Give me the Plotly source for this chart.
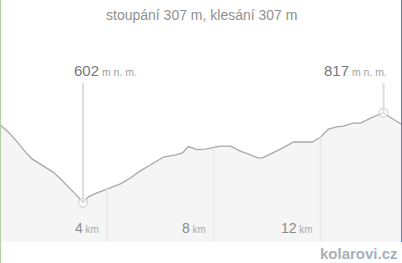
import numpy as np
import plotly.graph_objects as go

# distance along route (km) and elevation (m n. m.)
dist_km = [0.0, 0.31, 0.68, 0.98, 1.21, 1.43, 1.70, 1.99, 2.26, 2.56, 2.86, 3.11,
           3.31, 3.61, 4.02, 4.51, 4.88, 5.25, 5.63, 6.12, 6.57, 6.83, 7.05, 7.39,
           7.69, 7.99, 8.25, 8.63, 9.00, 9.38, 9.64, 9.83, 10.13, 10.50, 10.99,
           11.25, 11.70, 12.00, 12.30, 12.60, 12.86, 13.20, 13.50, 13.87, 14.36,
           14.70, 15.07]
elev_m = [788, 771, 745, 721, 706, 697, 687, 675, 659, 640, 620, 602,
          616, 625, 635, 647, 661, 678, 692, 711, 716, 721, 736, 729,
          730, 733, 737, 737, 725, 716, 709, 709, 718, 730, 747,
          747, 747, 759, 778, 783, 785, 792, 792, 804, 817,
          802, 788]

tick_km = [4, 8, 12]
tick_labels = ["4", "8", "12"]
title_text = "stoupání 307 m, klesání 307 m"
unit_elev = "m n. m."
unit_dist = "km"
watermark = "kolarovi.cz"

W, H = 402, 263
FONT = "Liberation Sans, Arial, sans-serif"

x = np.array(dist_km)
y = np.array(elev_m)
i_min = int(np.argmin(y))
i_max = int(np.argmax(y))

fig = go.Figure()

fig.add_trace(go.Scatter(
    x=dist_km, y=elev_m, mode="lines",
    line=dict(color="#a9a9a9", width=1.3),
    fill="tozeroy", fillcolor="#f5f5f5",
    hoverinfo="skip", showlegend=False,
))

shapes = []
# vertical grid lines below profile
for t in tick_km:
    yt = float(np.interp(t, x, y))
    shapes.append(dict(type="line", xref="x", yref="y", x0=t, x1=t,
                       y0=400, y1=yt, line=dict(color="#ebebeb", width=2),
                       layer="above"))
# marker lines for min / max
label_top_elev = 888
for i in (i_min, i_max):
    shapes.append(dict(type="line", xref="x", yref="y", x0=dist_km[i], x1=dist_km[i],
                       y0=elev_m[i], y1=label_top_elev,
                       line=dict(color="#dedede", width=2), layer="above"))
# screenshot edge lines
shapes.append(dict(type="line", xref="paper", yref="paper", x0=0.5 / W, x1=0.5 / W,
                   y0=0, y1=1, line=dict(color="#b3d19e", width=1)))
shapes.append(dict(type="line", xref="paper", yref="paper", x0=1 - 0.5 / W, x1=1 - 0.5 / W,
                   y0=(H - 242) / H, y1=1, line=dict(color="#4a86c8", width=1)))

fig.add_trace(go.Scatter(
    x=[dist_km[i_min], dist_km[i_max]], y=[elev_m[i_min], elev_m[i_max]],
    mode="markers",
    marker=dict(symbol="circle", size=9, color="rgba(255,255,255,0.6)",
                line=dict(color="#c8c8c8", width=1)),
    hoverinfo="skip", showlegend=False,
))

annotations = []
annotations.append(dict(
    xref="paper", yref="paper", x=0.5, y=(H - 15) / H, xanchor="center", yanchor="middle",
    text=title_text, showarrow=False, font=dict(family=FONT, size=14, color="#909090")))

unit_span = "<span style='font-size:10.5px;color:#a0a0a0'> " + unit_elev + "</span>"
annotations.append(dict(
    xref="x", yref="paper", x=dist_km[i_min], y=(H - 70) / H, xanchor="left", yanchor="middle",
    xshift=-11, text=str(elev_m[i_min]) + unit_span, showarrow=False,
    font=dict(family=FONT, size=15, color="#777777")))
annotations.append(dict(
    xref="x", yref="paper", x=dist_km[i_max], y=(H - 70) / H, xanchor="right", yanchor="middle",
    xshift=5, text=str(elev_m[i_max]) + unit_span, showarrow=False,
    font=dict(family=FONT, size=15, color="#777777")))

km_span = "<span style='font-size:10px;color:#aaaaaa'> " + unit_dist + "</span>"
for t, lab in zip(tick_km, tick_labels):
    annotations.append(dict(
        xref="x", yref="paper", x=t, y=(H - 228) / H, xanchor="right", yanchor="middle",
        xshift=-6, text=lab + km_span, showarrow=False,
        font=dict(family=FONT, size=14, color="#8a8a8a")))

annotations.append(dict(
    xref="paper", yref="paper", x=400 / W, y=(H - 253) / H, xanchor="right", yanchor="middle",
    text="<b>" + watermark + "</b>", showarrow=False,
    font=dict(family=FONT, size=15, color="#a8b0b8")))

fig.update_layout(
    width=W, height=H,
    margin=dict(l=0, r=0, t=0, b=0),
    paper_bgcolor="white", plot_bgcolor="white",
    xaxis=dict(range=[0.0, 15.05], visible=False, fixedrange=True),
    yaxis=dict(range=[508.1, 1086.2], domain=[(H - 242) / H, 1], visible=False, fixedrange=True),
    shapes=shapes, annotations=annotations,
    showlegend=False,
)

fig.write_html("out.html", config={"displayModeBar": False})
